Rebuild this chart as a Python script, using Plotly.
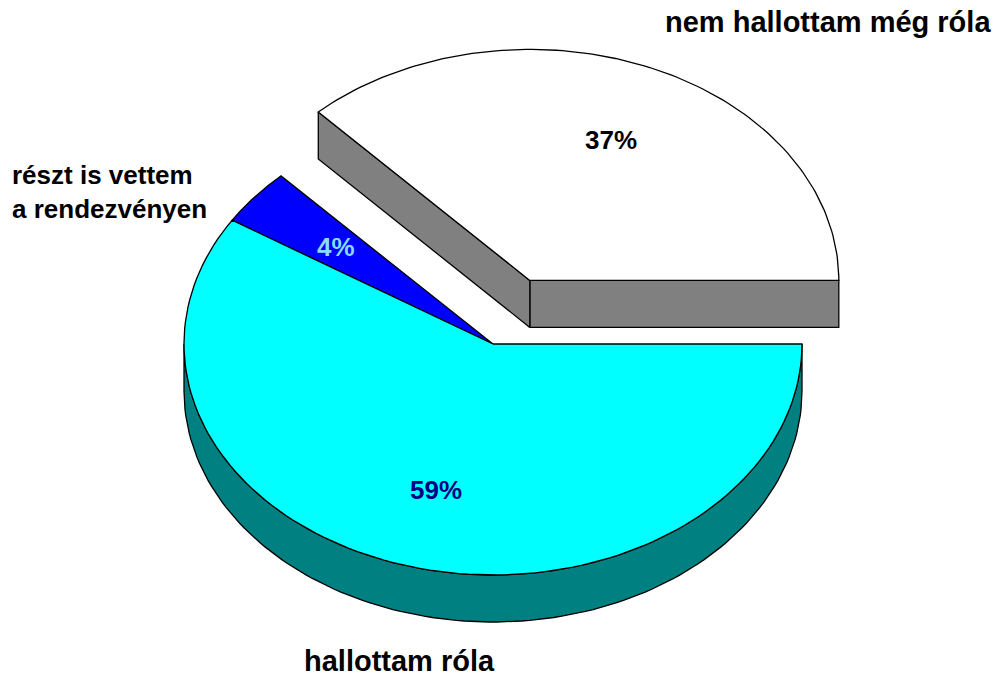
import numpy as np
import plotly.graph_objects as go

# ---- data ----
labels = ["nem hallottam még róla", "részt is vettem<br>a rendezvényen", "hallottam róla"]
values = [37, 4, 59]
top_colors = ["#FFFFFF", "#0000FF", "#00FFFF"]
side_colors = ["#808080", "#000080", "#008080"]
pct_colors = ["#000000", "#88DDFF", "#000080"]
explode = [0.30, 0.0, 0.0]

# ---- geometry (style) ----
CX, CY, RX, RY, DEPTH = 493, 344, 309, 231, 47
LABEL_R = 0.66
FONT = "Arial, Liberation Sans, sans-serif"

total = float(sum(values))
edges = np.concatenate([[0.0], np.cumsum(values)]) / total * 2 * np.pi


def arc(cx, cy, a0, a1, dz=0.0, n=120):
    t = np.linspace(a0, a1, n)
    return list(cx + RX * np.cos(t)), list(cy - RY * np.sin(t) + dz)


def poly_trace(xs, ys, fill):
    return go.Scatter(x=xs + [xs[0]], y=ys + [ys[0]], mode="lines", fill="toself",
                      fillcolor=fill, line=dict(color="black", width=1.3),
                      hoverinfo="skip", showlegend=False)


slices = []
for i, v in enumerate(values):
    a0, a1 = edges[i], edges[i + 1]
    m = (a0 + a1) / 2
    cx = CX + explode[i] * RX * np.cos(m)
    cy = CY - explode[i] * RY * np.sin(m)
    slices.append(dict(i=i, a0=a0, a1=a1, m=m, cx=cx, cy=cy))

fig = go.Figure()

# draw far (higher) groups first
groups = {}
for s in slices:
    key = (round(s["cx"], 3), round(s["cy"], 3))
    groups.setdefault(key, []).append(s)

for key in sorted(groups, key=lambda k: k[1]):
    grp = groups[key]
    for s in grp:
        i = s["i"]
        lo, hi = max(s["a0"], np.pi), min(s["a1"], 2 * np.pi)
        if hi > lo:
            tx, ty = arc(s["cx"], s["cy"], lo, hi)
            bx, by = arc(s["cx"], s["cy"], hi, lo, dz=DEPTH)
            fig.add_trace(poly_trace(tx + bx, ty + by, side_colors[i]))
        if explode[i] > 0:
            for a, nrm in ((s["a0"], s["a0"] - np.pi / 2), (s["a1"], s["a1"] + np.pi / 2)):
                if np.sin(nrm) < 0:
                    ex = s["cx"] + RX * np.cos(a)
                    ey = s["cy"] - RY * np.sin(a)
                    xs = [s["cx"], ex, ex, s["cx"]]
                    ys = [s["cy"], ey, ey + DEPTH, s["cy"] + DEPTH]
                    fig.add_trace(poly_trace(xs, ys, side_colors[i]))
    for s in grp:
        i = s["i"]
        tx, ty = arc(s["cx"], s["cy"], s["a0"], s["a1"])
        fig.add_trace(poly_trace([s["cx"]] + tx, [s["cy"]] + ty, top_colors[i]))

# percentage labels
for s in slices:
    i = s["i"]
    px = s["cx"] + LABEL_R * RX * np.cos(s["m"])
    py = s["cy"] - LABEL_R * RY * np.sin(s["m"])
    fig.add_annotation(x=px, y=py, xref="x", yref="y", showarrow=False,
                       text=f"<b>{round(values[i] / total * 100)}%</b>",
                       font=dict(family=FONT, size=26, color=pct_colors[i]))

# category labels
cat_pos = [(828, 22, "center", 29), (10, 192, "left", 26), (399, 661, "center", 29)]
for i, (x, y, al, sz) in enumerate(cat_pos):
    fig.add_annotation(x=x, y=y, xref="x", yref="y", showarrow=False,
                       text=f"<b>{labels[i]}</b>", xanchor=al, align=al,
                       font=dict(family=FONT, size=sz, color="black"))

W, H = 999, 679
fig.update_layout(
    width=W, height=H, margin=dict(l=0, r=0, t=0, b=0),
    paper_bgcolor="white", plot_bgcolor="white",
    xaxis=dict(range=[0, W], visible=False, fixedrange=True),
    yaxis=dict(range=[H, 0], visible=False, fixedrange=True),
)

fig.write_html("out.html", config={"displayModeBar": False},
               post_script="document.body.style.margin='0';document.body.style.overflow='hidden';")
